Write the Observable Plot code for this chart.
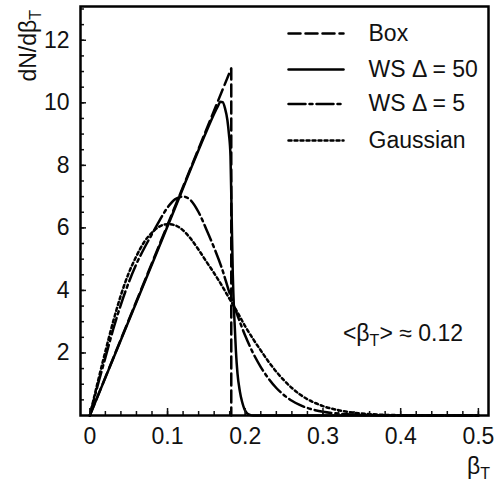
<!DOCTYPE html>
<html><head><meta charset="utf-8">
<script src="https://cdn.jsdelivr.net/npm/d3@7"></script>
<script src="https://cdn.jsdelivr.net/npm/@observablehq/plot@0.6"></script>
<style>
body{margin:0;background:#fff}
#chart svg text{font-family:"Liberation Sans", Arial, Helvetica, sans-serif}
</style>
</head><body><div id="chart"></div>
<script>
// ---- data ----
const boxBeta = [0, 0.182, 0.182];
const boxDens = [0, 11.1, 0];

const ws50Beta = [0, 0.05, 0.10, 0.15, 0.16, 0.165, 0.168, 0.171, 0.174, 0.177, 0.179, 0.181, 0.1825, 0.184, 0.186, 0.188, 0.190, 0.193, 0.196, 0.199, 0.202, 0.206, 0.21, 0.5];
const ws50Dens = [0, 3.02, 6.05, 9.08, 9.65, 9.9, 10.03, 10.02, 9.82, 9.45, 9.0, 8.3, 6.4, 4.5, 3.1, 2.05, 1.35, 0.78, 0.43, 0.2, 0.08, 0.02, 0, 0];

const ws5Beta = [0, 0.01, 0.02, 0.03, 0.04, 0.05, 0.06, 0.07, 0.08, 0.09, 0.10, 0.11, 0.12, 0.13, 0.14, 0.15, 0.16, 0.17, 0.18, 0.19, 0.20, 0.21, 0.22, 0.23, 0.24, 0.25, 0.26, 0.27, 0.28, 0.29, 0.30, 0.32, 0.34, 0.37, 0.40, 0.5];
const ws5Dens = [0, 0.95, 1.85, 2.75, 3.55, 4.25, 4.85, 5.35, 5.8, 6.25, 6.65, 6.92, 7.0, 6.88, 6.5, 5.95, 5.36, 4.7, 3.9, 3.2, 2.55, 2.0, 1.55, 1.18, 0.88, 0.65, 0.47, 0.34, 0.24, 0.17, 0.12, 0.06, 0.03, 0.01, 0, 0];

const gausBeta = [0, 0.01, 0.02, 0.03, 0.04, 0.05, 0.06, 0.07, 0.08, 0.09, 0.10, 0.11, 0.12, 0.13, 0.14, 0.15, 0.16, 0.17, 0.18, 0.19, 0.20, 0.21, 0.22, 0.23, 0.24, 0.25, 0.26, 0.27, 0.28, 0.29, 0.30, 0.32, 0.34, 0.36, 0.38, 0.40, 0.42, 0.5];
const gausDens = [0, 1.05, 2.05, 3.0, 3.85, 4.55, 5.1, 5.55, 5.85, 6.05, 6.12, 6.08, 5.92, 5.65, 5.3, 4.92, 4.55, 4.15, 3.72, 3.3, 2.85, 2.45, 2.08, 1.72, 1.4, 1.12, 0.88, 0.68, 0.52, 0.4, 0.3, 0.17, 0.09, 0.045, 0.02, 0.01, 0, 0];

const legendLabels = ["Box", "WS \u0394 = 50", "WS \u0394 = 5", "Gaussian"];
const xMajor = [0, 0.1, 0.2, 0.3, 0.4, 0.5];
const yMajor = [2, 4, 6, 8, 10, 12];

// ---- styles ----
const dashes = ["12,5", null, "17,4,3,4", "3,3"];
const LW = 2.5;
const FS = 23;

const toRows = (xs, ys) => xs.map((b, i) => ({beta: b, dens: ys[i]}));
const series = [
  {data: toRows(boxBeta, boxDens), curve: "linear"},
  {data: toRows(ws50Beta, ws50Dens), curve: "monotone-x"},
  {data: toRows(ws5Beta, ws5Dens), curve: "monotone-x"},
  {data: toRows(gausBeta, gausDens), curve: "monotone-x"}
];

const xMinor = d3.range(0, 0.5001, 0.02);
const yMinor = d3.range(0.5, 13.01, 0.5);

const lineShape = {draw(context, l) { context.moveTo(0, 0); context.lineTo(0, -l); }};
const rowDy = [27, 63, 97.5, 134];

const legendMarks = legendLabels.flatMap((lab, i) => [
  Plot.vector([0], {frameAnchor: "top-left", dx: 208, dy: rowDy[i], length: 55, rotate: 90, anchor: "start",
    shape: lineShape, stroke: "black", strokeWidth: LW, strokeDasharray: dashes[i]}),
  Plot.text([lab], {frameAnchor: "top-left", dx: 288, dy: rowDy[i], text: d => d, textAnchor: "start",
    lineAnchor: "middle", fontSize: FS, fill: "#111"})
]);

const plot = Plot.plot({
  width: 504, height: 485,
  marginLeft: 80, marginRight: 16, marginTop: 6, marginBottom: 70,
  x: {domain: [-0.012, 0.513]},
  y: {domain: [0, 13.08]},
  style: {background: "white", color: "#111"},
  marks: [
    ...series.map((s, i) => Plot.line(s.data, {x: "beta", y: "dens", stroke: "black", strokeWidth: LW,
      strokeDasharray: dashes[i], curve: s.curve})),
    Plot.axisX({ticks: xMinor, tickSize: -4, fill: "none", label: null, strokeWidth: 1.5}),
    Plot.axisX({ticks: xMajor, tickSize: -7, fill: "none", label: null, strokeWidth: 1.5}),
    Plot.axisX({ticks: xMajor, tickSize: 0, tickPadding: 12, tickFormat: d => String(d), fontSize: FS, label: null}),
    Plot.axisY({ticks: yMinor, tickSize: -4, fill: "none", label: null, strokeWidth: 1.5}),
    Plot.axisY({ticks: yMajor, tickSize: -6, fill: "none", label: null, strokeWidth: 1.5}),
    Plot.axisY({ticks: yMajor, tickSize: 0, tickPadding: 11, tickFormat: d => String(d), fontSize: FS, label: null}),
    ...legendMarks,
    Plot.frame({stroke: "black", strokeWidth: 2.5})
  ]
});

document.getElementById("chart").appendChild(plot);

// ---- text with subscripts ----
const svg = d3.select(plot);
function subText(sel, parts) {
  parts.forEach(p => {
    const t = sel.append("tspan").text(p.t);
    if (p.sub) t.attr("font-size", 16).attr("dy", 5);
    if (p.back) t.attr("dy", -5);
  });
}
const yl = svg.append("text").attr("transform", "translate(36,10) rotate(-90)")
  .attr("text-anchor", "end").attr("font-size", FS).attr("fill", "#111");
subText(yl, [{t: "dN/d\u03b2"}, {t: "T", sub: true}]);

const xl = svg.append("text").attr("x", 490).attr("y", 474)
  .attr("text-anchor", "end").attr("font-size", FS).attr("fill", "#111");
subText(xl, [{t: "\u03b2"}, {t: "T", sub: true}]);

const an = svg.append("text").attr("x", 463).attr("y", 341)
  .attr("text-anchor", "end").attr("font-size", FS).attr("fill", "#111");
subText(an, [{t: "<\u03b2"}, {t: "T", sub: true}, {t: "> \u2248 0.12", back: true}]);
</script>
</body></html>
